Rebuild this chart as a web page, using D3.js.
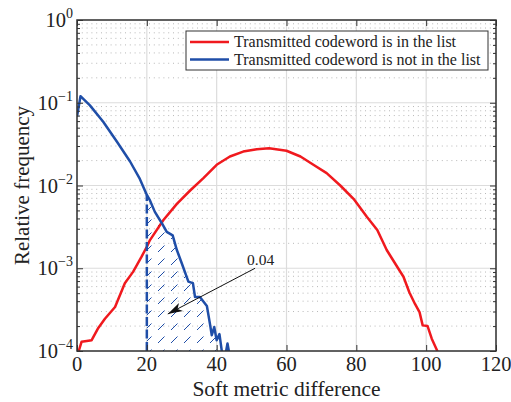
<!DOCTYPE html>
<html>
<head>
<meta charset="utf-8">
<script src="https://cdn.jsdelivr.net/npm/d3@7"></script>
<style>
  body { margin: 0; background: #fff; }
  text { font-family: "Liberation Serif", "Times New Roman", serif; fill: #222; }
</style>
</head>
<body>
<div id="chart"></div>
<script>
// Transmitted codeword is in the list (red)
var redX = [0.5, 1.3, 2.8, 4.2, 6.1, 8, 10.9, 13.7, 16.1, 18.5, 20, 20.9, 24.7, 28.6, 32.4, 36.2, 40, 43.8, 47.6, 51.5, 55, 60, 64, 67.7, 71.5, 75.4, 79.2, 83, 86, 88.7, 92.1, 93.5, 95.2, 96.8, 98.1, 99, 100.4, 101.6, 103.1, 104];
var redY = [0.0001, 0.000129, 0.000132, 0.000135, 0.00019, 0.000245, 0.00034, 0.00066, 0.00091, 0.00138, 0.00182, 0.00219, 0.0038, 0.006, 0.0087, 0.0123, 0.0178, 0.0224, 0.0257, 0.0275, 0.0282, 0.0263, 0.0224, 0.0178, 0.0141, 0.01, 0.0069, 0.0042, 0.0029, 0.00166, 0.00098, 0.00079, 0.00051, 0.00037, 0.000295, 0.000204, 0.0002, 0.000141, 0.000102, 0.00008];

// Transmitted codeword is not in the list (blue)
var blueX = [0, 1, 3.7, 7.5, 11.4, 15.2, 18, 20, 20.9, 22.3, 24.3, 25.7, 27.4, 28.6, 30, 31.9, 33.2, 33.8, 35.2, 37.2, 38.1, 38.6, 39.3, 40, 40.8, 41.5, 42.3, 43.1, 43.9];
var blueY = [0.068, 0.12, 0.093, 0.059, 0.034, 0.0195, 0.012, 0.0077, 0.0066, 0.0048, 0.0035, 0.00275, 0.0025, 0.00166, 0.00115, 0.00069, 0.00066, 0.00045, 0.00045, 0.00035, 0.00021, 0.000155, 0.000195, 0.000135, 0.00016, 0.000098, 0.00008, 0.000123, 0.00008];

var xTicks = [0, 20, 40, 60, 80, 100, 120];
var yTickExps = [0, -1, -2, -3, -4];
var legendLabels = ["Transmitted codeword is in the list", "Transmitted codeword is not in the list"];
var thresholdX = 20;
var annotationText = "0.04";
var annotationTail = [51, 0.00100];
var annotationHead = [26, 0.00028];

var svgWidth = 511;
var svgHeight = 402;
var chartMargin = { top: 20, right: 15, bottom: 51, left: 77 };
var chartWidth = svgWidth - chartMargin.left - chartMargin.right;
var chartHeight = svgHeight - chartMargin.top - chartMargin.bottom;

var redColor = "#f0191e";
var blueColor = "#1f4ea8";

var svg = d3.select("#chart").append("svg")
  .attr("width", svgWidth)
  .attr("height", svgHeight);

var defs = svg.append("defs");
defs.append("clipPath").attr("id", "plotClip")
  .append("rect").attr("width", chartWidth).attr("height", chartHeight);

var hatch = defs.append("pattern")
  .attr("id", "hatch")
  .attr("patternUnits", "userSpaceOnUse")
  .attr("width", 13).attr("height", 13);
hatch.append("line")
  .attr("x1", 3).attr("y1", 11).attr("x2", 9.5).attr("y2", 4.5)
  .attr("stroke", blueColor).attr("stroke-width", 1);

defs.append("marker")
  .attr("id", "arrow")
  .attr("markerUnits", "userSpaceOnUse")
  .attr("viewBox", "0 0 15 9")
  .attr("refX", 15).attr("refY", 4.5)
  .attr("markerWidth", 15).attr("markerHeight", 9)
  .attr("orient", "auto")
  .append("path")
  .attr("d", "M0,0 L15,4.5 L0,9 L4,4.5 Z")
  .attr("fill", "#111");

var chartGroup = svg.append("g")
  .attr("transform", `translate(${chartMargin.left}, ${chartMargin.top})`);

var xScale = d3.scaleLinear().domain([0, 120]).range([0, chartWidth]);
var yScale = d3.scaleLog().domain([1e-4, 1]).range([chartHeight, 0]);

var majorY = yTickExps.map(e => Math.pow(10, e));
var minorY = [];
yTickExps.slice(1).forEach(function(e) {
  for (var k = 2; k <= 9; k++) minorY.push(k * Math.pow(10, e));
});

// grid
chartGroup.selectAll(".minor-grid")
  .data(minorY).enter().append("line")
  .attr("x1", 0).attr("x2", chartWidth)
  .attr("y1", d => yScale(d)).attr("y2", d => yScale(d))
  .attr("stroke", "#b8b8b8").attr("stroke-width", 1)
  .attr("stroke-dasharray", "1,3.8");

chartGroup.selectAll(".major-grid-y")
  .data(majorY).enter().append("line")
  .attr("x1", 0).attr("x2", chartWidth)
  .attr("y1", d => yScale(d)).attr("y2", d => yScale(d))
  .attr("stroke", "#dcdcdc").attr("stroke-width", 1.2);

chartGroup.selectAll(".major-grid-x")
  .data(xTicks).enter().append("line")
  .attr("x1", d => xScale(d)).attr("x2", d => xScale(d))
  .attr("y1", 0).attr("y2", chartHeight)
  .attr("stroke", "#dcdcdc").attr("stroke-width", 1.2);

var plot = chartGroup.append("g").attr("clip-path", "url(#plotClip)");

var blueData = blueX.map((x, i) => [x, blueY[i]]);
var redData = redX.map((x, i) => [x, redY[i]]);

// hatched tail area beyond the threshold
var area = d3.area()
  .x(d => xScale(d[0]))
  .y0(chartHeight)
  .y1(d => yScale(d[1]));
plot.append("path")
  .datum(blueData.filter(d => d[0] >= thresholdX))
  .attr("d", area)
  .attr("fill", "url(#hatch)");

var line = d3.line()
  .x(d => xScale(d[0]))
  .y(d => yScale(d[1]));

plot.append("path")
  .datum(redData)
  .attr("d", line)
  .attr("fill", "none")
  .attr("stroke", redColor)
  .attr("stroke-width", 2.5)
  .attr("stroke-linejoin", "round");

plot.append("path")
  .datum(blueData)
  .attr("d", line)
  .attr("fill", "none")
  .attr("stroke", blueColor)
  .attr("stroke-width", 2.5)
  .attr("stroke-linejoin", "round");

// dashed threshold line
var thresholdTop = blueY[blueX.indexOf(thresholdX)];
plot.append("line")
  .attr("x1", xScale(thresholdX)).attr("x2", xScale(thresholdX))
  .attr("y1", chartHeight).attr("y2", yScale(thresholdTop))
  .attr("stroke", blueColor).attr("stroke-width", 2.5)
  .attr("stroke-dasharray", "9,3.5");

// axes (ticks pointing inward)
var minorTickAxis = function(axis) {
  return axis.tickValues(minorY).tickSize(-3).tickFormat("");
};
chartGroup.append("g").call(minorTickAxis(d3.axisLeft(yScale)));
chartGroup.append("g").attr("transform", `translate(${chartWidth},0)`)
  .call(minorTickAxis(d3.axisRight(yScale)));
chartGroup.append("g").call(d3.axisLeft(yScale).tickValues(majorY).tickSize(-6).tickFormat(""));
chartGroup.append("g").attr("transform", `translate(${chartWidth},0)`)
  .call(d3.axisRight(yScale).tickValues(majorY).tickSize(-6).tickFormat(""));
chartGroup.append("g").attr("transform", `translate(0,${chartHeight})`)
  .call(d3.axisBottom(xScale).tickValues(xTicks).tickSize(-6).tickFormat(""));
chartGroup.append("g")
  .call(d3.axisTop(xScale).tickValues(xTicks).tickSize(-6).tickFormat(""));
chartGroup.selectAll(".domain").remove();
chartGroup.selectAll(".tick line").attr("stroke", "#333").attr("stroke-width", 1);

chartGroup.append("rect")
  .attr("width", chartWidth).attr("height", chartHeight)
  .attr("fill", "none").attr("stroke", "#333").attr("stroke-width", 1.5);

// tick labels
chartGroup.selectAll(".xlabel")
  .data(xTicks).enter().append("text")
  .attr("x", d => xScale(d))
  .attr("y", chartHeight + 20)
  .attr("text-anchor", "middle")
  .attr("font-size", 20.5)
  .text(d => d);

var yLabels = chartGroup.selectAll(".ylabel")
  .data(yTickExps).enter().append("text")
  .attr("x", -4)
  .attr("y", d => yScale(Math.pow(10, d)) + 7)
  .attr("text-anchor", "end")
  .attr("font-size", 20.5);
yLabels.append("tspan").text("10");
yLabels.append("tspan")
  .attr("dy", -9)
  .attr("font-size", 14)
  .text(d => d === 0 ? "0" : "\u2212" + Math.abs(d));

// axis titles
svg.append("text")
  .attr("x", chartMargin.left + chartWidth / 2)
  .attr("y", 396)
  .attr("text-anchor", "middle")
  .attr("font-size", 21.5)
  .text("Soft metric difference");

svg.append("text")
  .attr("transform", `translate(29, ${chartMargin.top + chartHeight / 2}) rotate(-90)`)
  .attr("text-anchor", "middle")
  .attr("font-size", 21)
  .text("Relative frequency");

// legend
var legend = svg.append("g").attr("transform", "translate(186, 31)");
legend.append("rect")
  .attr("width", 302).attr("height", 39)
  .attr("fill", "#fff").attr("stroke", "#333").attr("stroke-width", 1);
var legendColors = [redColor, blueColor];
legendLabels.forEach(function(label, i) {
  var ly = 11 + i * 17.5;
  legend.append("line")
    .attr("x1", 4).attr("x2", 43).attr("y1", ly).attr("y2", ly)
    .attr("stroke", legendColors[i]).attr("stroke-width", 2.5);
  legend.append("text")
    .attr("x", 48).attr("y", ly + 5)
    .attr("font-size", 16)
    .text(label);
});

// annotation arrow
chartGroup.append("line")
  .attr("x1", xScale(annotationTail[0])).attr("y1", yScale(annotationTail[1]))
  .attr("x2", xScale(annotationHead[0])).attr("y2", yScale(annotationHead[1]))
  .attr("stroke", "#111").attr("stroke-width", 1)
  .attr("marker-end", "url(#arrow)");
chartGroup.append("text")
  .attr("x", xScale(annotationTail[0]) - 8)
  .attr("y", yScale(annotationTail[1]) - 3)
  .attr("font-size", 15.5)
  .text(annotationText);
</script>
</body>
</html>
